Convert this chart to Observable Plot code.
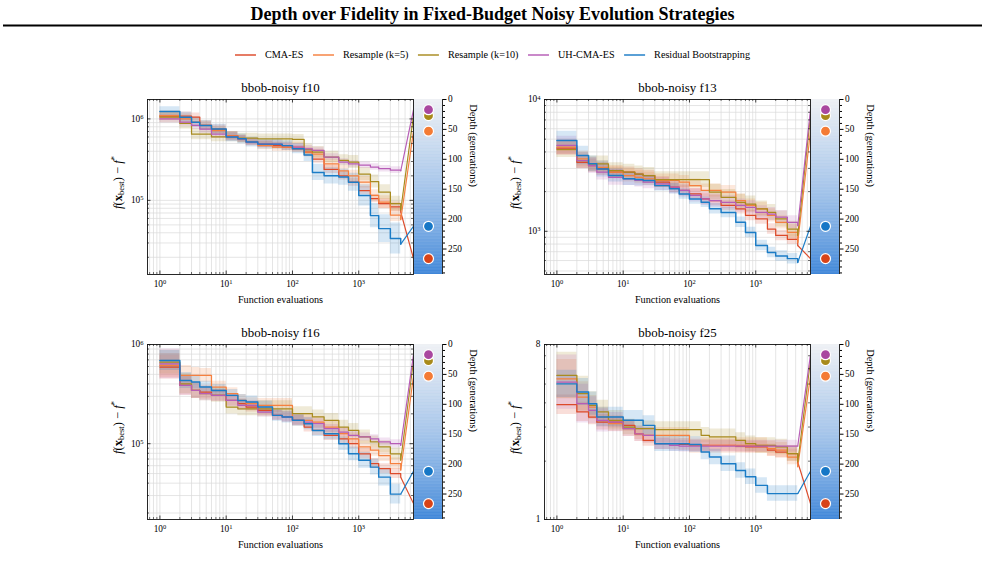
<!DOCTYPE html>
<html>
<head>
<meta charset="utf-8">
<script src="https://cdn.jsdelivr.net/npm/d3@7"></script>
<script src="https://cdn.jsdelivr.net/npm/@observablehq/plot@0.6"></script>
<style>
  html, body { margin: 0; padding: 0; background: #fff; }
  body { width: 985px; height: 563px; position: relative; overflow: hidden;
         font-family: "Liberation Serif", "Times New Roman", Times, serif; }
  .abs { position: absolute; }
</style>
</head>
<body>
<script>
// ---------------- DATA ----------------
const methods = ["CMA-ES", "Resample (k=5)", "Resample (k=10)", "UH-CMA-ES", "Residual Bootstrapping"];
const depthGenerations = [266, 53, 27, 17, 212];
const evaluations = [1, 2, 3, 4, 6, 10, 15, 20, 30, 50, 70, 100, 150, 200, 300, 500, 700, 1000, 1500, 2000, 3000, 4300];
const panelTitles = ["bbob-noisy f10", "bbob-noisy f13", "bbob-noisy f16", "bbob-noisy f25"];
const xTickValues = [1, 10, 100, 1000];
const depthTicks = [0, 50, 100, 150, 200, 250];
const depthMax = 292.6;

// f10
const f10_yDomain = [1.23e4, 1.73e6];
const f10_yTicks = [1e5, 1e6];
const f10_cmaes = [1.08e6, 1.08e6, 1.05e6, 8.3e5, 7.5e5, 6.2e5, 5.7e5, 5.2e5, 4.9e5, 4.7e5, 4.5e5, 4.3e5, 3.9e5, 3.2e5, 2.4e5, 2.0e5, 1.67e5, 1.32e5, 1.05e5, 9.1e4, 8.3e4, 7.2e4];
const f10_rs5 = [1.1e6, 1.0e6, 9.1e5, 8.3e5, 7.2e5, 6.2e5, 5.7e5, 5.2e5, 4.7e5, 4.5e5, 4.5e5, 4.5e5, 3.9e5, 3.7e5, 2.8e5, 2.3e5, 2.0e5, 1.67e5, 1.15e5, 9.5e4, 6.6e4, 5.8e4];
const f10_rs10 = [1.05e6, 8.8e5, 6.5e5, 6.5e5, 6.0e5, 6.0e5, 5.8e5, 5.8e5, 5.7e5, 5.7e5, 5.7e5, 5.6e5, 4.2e5, 3.9e5, 3.4e5, 3.1e5, 2.95e5, 2.1e5, 1.7e5, 1.26e5, 9.1e4, 7.6e4];
const f10_uh = [1.0e6, 9.1e5, 8.3e5, 7.5e5, 6.5e5, 6.0e5, 5.7e5, 5.2e5, 4.9e5, 4.9e5, 4.7e5, 4.5e5, 4.3e5, 4.1e5, 3.4e5, 2.95e5, 2.8e5, 2.7e5, 2.56e5, 2.45e5, 2.35e5, 2.3e5];
const f10_rb = [1.23e6, 1.05e6, 9.1e5, 8.3e5, 7.5e5, 6.0e5, 5.7e5, 5.2e5, 4.9e5, 4.9e5, 4.7e5, 4.3e5, 3.6e5, 2.2e5, 2.0e5, 1.93e5, 1.67e5, 1.15e5, 6.5e4, 4.5e4, 3.4e4, 2.9e4];
// band half-widths (log10 decades)
const f10_cmaes_sd = [.05,.05,.05,.05,.05,.05,.04,.04,.04,.04,.04,.04,.05,.05,.05,.05,.05,.05,.05,.06,.06,.06];
const f10_rs5_sd = [.06,.06,.06,.06,.05,.05,.05,.05,.05,.05,.05,.06,.06,.06,.06,.06,.07,.07,.07,.08,.08,.08];
const f10_rs10_sd = [.07,.07,.07,.07,.06,.06,.06,.06,.06,.06,.06,.06,.07,.07,.07,.07,.08,.08,.08,.09,.09,.09];
const f10_uh_sd = [.05,.05,.05,.05,.05,.05,.04,.04,.04,.04,.04,.04,.04,.04,.04,.04,.04,.04,.04,.04,.04,.04];
const f10_rb_sd = [.06,.06,.06,.06,.06,.06,.06,.06,.06,.06,.06,.06,.08,.10,.10,.10,.11,.13,.15,.17,.19,.20];

// f13
const f13_yDomain = [470, 1e4];
const f13_yTicks = [1e3, 1e4];
const f13_cmaes = [4.27e3, 3.34e3, 3.15e3, 2.97e3, 2.81e3, 2.81e3, 2.72e3, 2.65e3, 2.36e3, 2.16e3, 2.04e3, 1.92e3, 1.76e3, 1.71e3, 1.57e3, 1.48e3, 1.32e3, 1.24e3, 1.04e3, 930, 870, 780];
const f13_rs5 = [4.35e3, 3.54e3, 3.25e3, 3.06e3, 2.81e3, 2.65e3, 2.57e3, 2.5e3, 2.43e3, 2.43e3, 2.36e3, 2.22e3, 2.04e3, 2.04e3, 1.98e3, 1.71e3, 1.57e3, 1.48e3, 1.32e3, 1.17e3, 980, 820];
const f13_rs10 = [4.17e3, 3.44e3, 3.25e3, 3.25e3, 2.89e3, 2.81e3, 2.72e3, 2.65e3, 2.47e3, 2.47e3, 2.47e3, 2.47e3, 2.47e3, 1.98e3, 1.81e3, 1.66e3, 1.61e3, 1.48e3, 1.39e3, 1.24e3, 1.04e3, 930];
const f13_uh = [4.48e3, 3.44e3, 3.15e3, 2.81e3, 2.57e3, 2.5e3, 2.43e3, 2.36e3, 2.29e3, 2.16e3, 2.04e3, 1.87e3, 1.76e3, 1.71e3, 1.66e3, 1.57e3, 1.52e3, 1.39e3, 1.35e3, 1.28e3, 1.17e3, 1.1e3];
const f13_rb = [4.89e3, 3.76e3, 3.25e3, 2.97e3, 2.65e3, 2.5e3, 2.47e3, 2.43e3, 2.22e3, 2.1e3, 1.92e3, 1.76e3, 1.66e3, 1.48e3, 1.39e3, 1.17e3, 980, 780, 690, 650, 620, 580];
const f13_cmaes_sd = [.05,.05,.05,.05,.04,.04,.04,.04,.04,.04,.04,.04,.04,.04,.04,.04,.04,.04,.04,.04,.04,.04];
const f13_rs5_sd = [.06,.06,.05,.05,.05,.05,.05,.05,.05,.05,.05,.05,.05,.05,.05,.05,.05,.05,.05,.05,.06,.06];
const f13_rs10_sd = [.06,.06,.06,.06,.06,.06,.06,.06,.06,.06,.06,.06,.06,.06,.06,.06,.06,.06,.06,.06,.06,.06];
const f13_uh_sd = [.07,.06,.06,.06,.06,.05,.05,.05,.05,.05,.05,.05,.05,.05,.05,.05,.05,.05,.05,.05,.05,.05];
const f13_rb_sd = [.07,.07,.06,.06,.05,.05,.05,.04,.04,.04,.04,.04,.04,.04,.04,.04,.04,.04,.04,.04,.04,.04];

// f16
const f16_yDomain = [1.72e4, 1e6];
const f16_yTicks = [1e5, 1e6];
const f16_cmaes = [5.92e5, 3.87e5, 3.44e5, 3.31e5, 3.07e5, 2.73e5, 2.53e5, 2.34e5, 2.17e5, 1.93e5, 1.86e5, 1.72e5, 1.47e5, 1.36e5, 1.21e5, 1.12e5, 1.0e5, 7.9e4, 6.3e4, 5.6e4, 5.0e4, 4.6e4];
const f16_rs5 = [6.15e5, 4.88e5, 4.88e5, 4.88e5, 3.72e5, 3.19e5, 2.73e5, 2.53e5, 2.43e5, 2.43e5, 2.43e5, 1.72e5, 1.72e5, 1.65e5, 1.47e5, 1.26e5, 1.12e5, 9.3e4, 8.6e4, 7.6e4, 6.3e4, 5.4e4];
const f16_rs10 = [6.64e5, 4.02e5, 3.44e5, 3.19e5, 3.07e5, 2.34e5, 2.25e5, 2.25e5, 2.25e5, 2.25e5, 2.25e5, 2.01e5, 2.01e5, 1.86e5, 1.72e5, 1.47e5, 1.36e5, 1.17e5, 1.04e5, 9.3e4, 7.9e4, 6.8e4];
const f16_uh = [6.38e5, 3.87e5, 3.44e5, 3.19e5, 3.07e5, 2.73e5, 2.43e5, 2.43e5, 2.08e5, 1.93e5, 1.86e5, 1.72e5, 1.65e5, 1.59e5, 1.42e5, 1.31e5, 1.21e5, 1.17e5, 1.12e5, 1.04e5, 1.0e5, 9.6e4];
const f16_rb = [6.9e5, 4.34e5, 4.18e5, 3.72e5, 3.44e5, 3.07e5, 2.73e5, 2.63e5, 2.34e5, 1.93e5, 1.86e5, 1.72e5, 1.59e5, 1.36e5, 1.26e5, 1.0e5, 7.9e4, 6.8e4, 5.8e4, 4.6e4, 3.1e4, 3.1e4];
const f16_cmaes_sd = [.12,.10,.08,.07,.06,.06,.05,.05,.05,.05,.05,.05,.05,.05,.05,.05,.05,.05,.05,.05,.05,.05];
const f16_rs5_sd = [.12,.10,.08,.07,.06,.06,.06,.06,.07,.07,.07,.06,.06,.06,.06,.06,.06,.06,.06,.06,.06,.06];
const f16_rs10_sd = [.12,.10,.08,.07,.07,.07,.07,.07,.08,.08,.08,.07,.07,.07,.07,.07,.07,.07,.06,.06,.06,.06];
const f16_uh_sd = [.15,.10,.08,.07,.06,.06,.05,.05,.05,.05,.05,.05,.05,.05,.04,.04,.04,.04,.04,.04,.04,.04];
const f16_rb_sd = [.10,.08,.07,.06,.06,.06,.06,.06,.06,.06,.06,.06,.06,.06,.06,.07,.07,.08,.08,.09,.10,.10];

// f25
const f25_yDomain = [1, 8];
const f25_yTicks = [1, 8];
const f25_cmaes = [3.91, 3.59, 3.38, 3.18, 3.18, 3.06, 2.77, 2.56, 2.46, 2.46, 2.44, 2.41, 2.41, 2.41, 2.41, 2.39, 2.37, 2.37, 2.28, 2.23, 2.19, 1.98];
const f25_rs5 = [5.32, 4.28, 3.80, 3.38, 3.12, 2.94, 2.77, 2.72, 2.72, 2.72, 2.72, 2.41, 2.41, 2.41, 2.41, 2.41, 2.41, 2.41, 2.32, 2.28, 2.10, 1.87];
const f25_rs10 = [5.54, 4.46, 3.88, 3.59, 3.25, 3.00, 2.94, 2.94, 2.91, 2.91, 2.91, 2.91, 2.72, 2.67, 2.67, 2.56, 2.46, 2.41, 2.41, 2.37, 2.19, 1.98];
const f25_uh = [5.12, 3.96, 3.66, 3.25, 3.18, 2.94, 2.77, 2.72, 2.46, 2.41, 2.39, 2.39, 2.39, 2.39, 2.39, 2.39, 2.39, 2.39, 2.39, 2.39, 2.39, 2.39];
const f25_rb = [5.01, 4.55, 3.96, 3.38, 3.38, 3.25, 3.25, 3.06, 2.46, 2.46, 2.46, 2.44, 2.23, 2.10, 1.94, 1.79, 1.66, 1.50, 1.36, 1.36, 1.36, 1.36];
const f25_cmaes_sd = [.05,.05,.04,.04,.03,.03,.03,.03,.03,.03,.03,.03,.03,.03,.03,.03,.03,.03,.03,.03,.04,.04];
const f25_rs5_sd = [.10,.08,.06,.05,.04,.04,.04,.04,.04,.04,.04,.04,.04,.04,.04,.04,.04,.04,.04,.04,.04,.05];
const f25_rs10_sd = [.12,.09,.07,.06,.05,.04,.04,.04,.04,.04,.04,.04,.04,.04,.04,.04,.04,.04,.04,.04,.04,.04];
const f25_uh_sd = [.14,.10,.07,.06,.05,.04,.04,.04,.03,.03,.03,.03,.03,.03,.03,.03,.03,.03,.03,.03,.03,.03];
const f25_rb_sd = [.07,.07,.06,.05,.05,.05,.05,.05,.04,.04,.04,.04,.04,.04,.04,.04,.04,.04,.04,.04,.04,.04];

// ---------------- STYLE / LAYOUT ----------------
const FONT = '"Liberation Serif","Times New Roman",Times,serif';
const COLORS = ["#dc4a2a", "#f5803f", "#a88b1f", "#b65cb6", "#1b7cc6"];
const DOT_COLORS = ["#d84318", "#f47b35", "#a88a1a", "#a9479f", "#1677c6"];
const GRID = "#dadada";
const X_DOMAIN = [0.65, 6700];
const ML = 47, MR = 1, MT = 28, MB = 36, W = 266, H = 175, CBW = 28, CBMR = 62;

const panels = [
  {title: panelTitles[0], pos: [147, 99], yDomain: f10_yDomain, yTicks: f10_yTicks, yGrid: true, pow: true,
   series: [f10_cmaes, f10_rs5, f10_rs10, f10_uh, f10_rb], spread: [f10_cmaes_sd, f10_rs5_sd, f10_rs10_sd, f10_uh_sd, f10_rb_sd]},
  {title: panelTitles[1], pos: [544, 99], yDomain: f13_yDomain, yTicks: f13_yTicks, yGrid: true, pow: true,
   series: [f13_cmaes, f13_rs5, f13_rs10, f13_uh, f13_rb], spread: [f13_cmaes_sd, f13_rs5_sd, f13_rs10_sd, f13_uh_sd, f13_rb_sd]},
  {title: panelTitles[2], pos: [147, 344], yDomain: f16_yDomain, yTicks: f16_yTicks, yGrid: true, pow: true,
   series: [f16_cmaes, f16_rs5, f16_rs10, f16_uh, f16_rb], spread: [f16_cmaes_sd, f16_rs5_sd, f16_rs10_sd, f16_uh_sd, f16_rb_sd]},
  {title: panelTitles[3], pos: [544, 344], yDomain: f25_yDomain, yTicks: f25_yTicks, yGrid: false, pow: false,
   series: [f25_cmaes, f25_rs5, f25_rs10, f25_uh, f25_rb], spread: [f25_cmaes_sd, f25_rs5_sd, f25_rs10_sd, f25_uh_sd, f25_rb_sd]}
];

function logTicks(lo, hi) {
  const out = [];
  for (let e = Math.floor(Math.log10(lo)); e <= Math.ceil(Math.log10(hi)); e++)
    for (let m = 1; m < 10; m++) {
      const v = m * Math.pow(10, e);
      if (v >= lo * 0.9999 && v <= hi * 1.0001) out.push(v);
    }
  return out;
}
const powFmt = d => "10^" + Math.round(Math.log10(d));

function fixPowers(svg) {
  svg.querySelectorAll("text").forEach(t => {
    const m = /^10\^(-?\d+)$/.exec(t.textContent);
    if (m) {
      t.textContent = "10";
      const ts = document.createElementNS("http://www.w3.org/2000/svg", "tspan");
      ts.setAttribute("dy", "-0.45em");
      ts.setAttribute("font-size", "0.7em");
      ts.textContent = m[1];
      t.appendChild(ts);
    }
  });
}

function place(node, left, top) {
  const div = document.createElement("div");
  div.className = "abs";
  div.style.left = left + "px";
  div.style.top = top + "px";
  div.appendChild(node);
  document.body.appendChild(div);
}

const cbColor = d3.interpolateRgbBasis(["#eef0f4", "#c9daef", "#a6c5ea", "#77a9e2", "#3c84d8"]);

function drawPanel(p) {
  const [fl, ft] = p.pos;
  const [lo, hi] = p.yDomain;
  const llo = Math.log10(lo), lhi = Math.log10(hi);
  const last = evaluations.length - 1;
  const bands = [], lines = [], links = [];
  p.series.forEach((ys, k) => {
    const rows = evaluations.map((x, i) => ({
      x, y: ys[i], lo: ys[i] / Math.pow(10, p.spread[k][i]), hi: ys[i] * Math.pow(10, p.spread[k][i])
    }));
    bands.push(Plot.areaY(rows, {x: "x", y1: "lo", y2: "hi", curve: "step-after", fill: COLORS[k], fillOpacity: 0.18, clip: true}));
    lines.push(Plot.line(rows, {x: "x", y: "y", curve: "step-after", stroke: COLORS[k], strokeWidth: k === 4 ? 1.45 : 1.25, clip: true}));
    const yEdge = Math.pow(10, lhi - depthGenerations[k] / depthMax * (lhi - llo));
    links.push(Plot.link([{x1: evaluations[last], y1: ys[last], x2: X_DOMAIN[1], y2: yEdge}],
      {x1: "x1", y1: "y1", x2: "x2", y2: "y2", stroke: COLORS[k], strokeWidth: 1.15, clip: true}));
  });
  const xAll = logTicks(X_DOMAIN[0], X_DOMAIN[1]);
  const xMinor = xAll.filter(v => !xTickValues.includes(v));
  const yAll = logTicks(lo, hi);
  const yMinor = yAll.filter(v => !p.yTicks.some(t => Math.abs(t - v) < 1e-9 * t));
  const tc = "#111";
  const svg = Plot.plot({
    width: ML + W + MR, height: MT + H + MB,
    marginLeft: ML, marginRight: MR, marginTop: MT, marginBottom: MB,
    x: {type: "log", domain: X_DOMAIN},
    y: {type: "log", domain: p.yDomain},
    style: {fontFamily: FONT, fontSize: "9.3px", color: "#000", background: "none", overflow: "visible"},
    marks: [
      Plot.ruleX(xAll, {stroke: GRID, strokeWidth: 0.7}),
      p.yGrid ? Plot.ruleY(yAll, {stroke: GRID, strokeWidth: 0.7}) : null,
      ...bands, ...lines, ...links,
      Plot.frame({stroke: tc, strokeWidth: 0.9}),
      Plot.ruleX(xTickValues, {insetTop: H - 3.5, stroke: tc, strokeWidth: 0.8}),
      Plot.ruleX(xTickValues, {insetBottom: H - 3.5, stroke: tc, strokeWidth: 0.8}),
      Plot.ruleX(xMinor, {insetTop: H - 2, stroke: tc, strokeWidth: 0.6}),
      Plot.ruleX(xMinor, {insetBottom: H - 2, stroke: tc, strokeWidth: 0.6}),
      Plot.ruleY(p.yTicks, {insetRight: W - 3.5, stroke: tc, strokeWidth: 0.8}),
      Plot.ruleY(p.yTicks, {insetLeft: W - 3.5, stroke: tc, strokeWidth: 0.8}),
      Plot.ruleY(yMinor, {insetRight: W - 2, stroke: tc, strokeWidth: 0.6}),
      Plot.ruleY(yMinor, {insetLeft: W - 2, stroke: tc, strokeWidth: 0.6}),
      Plot.axisX({ticks: xTickValues, tickSize: 0, tickPadding: 6, tickFormat: powFmt, label: null}),
      Plot.axisY({ticks: p.yTicks, tickSize: 0, tickPadding: 4, tickFormat: p.pow ? powFmt : (d => String(d)), label: null}),
      Plot.text([p.title], {text: d => d, frameAnchor: "top", dy: -8, lineAnchor: "bottom", fontSize: 12.9}),
      Plot.text(["Function evaluations"], {text: d => d, frameAnchor: "bottom", dy: 25, lineAnchor: "middle", fontSize: 10.2})
    ]
  });
  fixPowers(svg);
  // rich y-axis label: f(x_best) − f*
  const t = d3.select(svg).append("text")
    .attr("transform", `translate(${ML - 29},${MT + H / 2 - 4}) rotate(-90)`)
    .attr("text-anchor", "middle").attr("dominant-baseline", "central")
    .attr("font-size", 12.5).attr("font-family", FONT).attr("fill", "#000");
  t.append("tspan").attr("font-style", "italic").text("f");
  t.append("tspan").text("(");
  t.append("tspan").attr("font-weight", "bold").text("x");
  t.append("tspan").attr("font-size", 8.5).attr("dy", 3).text("best");
  t.append("tspan").attr("dy", -3).text(") \u2212 ");
  t.append("tspan").attr("font-style", "italic").text("f");
  t.append("tspan").attr("font-size", 8.5).attr("dy", -4.5).text("*");
  place(svg, fl - ML, ft - MT);

  // colorbar
  const cells = d3.range(0, depthMax, 1);
  const minorDepth = d3.range(0, 291, 10).filter(v => v % 50 !== 0);
  const cb = Plot.plot({
    width: CBW + CBMR, height: MT + H + MB,
    marginLeft: 0, marginRight: CBMR, marginTop: MT, marginBottom: MB,
    x: {domain: [0, 1], axis: null},
    y: {domain: [0, depthMax], reverse: true},
    style: {fontFamily: FONT, fontSize: "9.3px", color: "#000", background: "none", overflow: "visible"},
    marks: [
      Plot.rect(cells, {x1: 0, x2: 1, y1: d => d, y2: d => Math.min(d + 1.6, depthMax), fill: d => cbColor((d + 0.5) / depthMax)}),
      Plot.ruleX([1], {stroke: "#111", strokeWidth: 0.9}),
      Plot.axisY({anchor: "right", ticks: depthTicks, tickSize: 3.5, tickPadding: 2, label: null}),
      Plot.axisY({anchor: "right", ticks: minorDepth, tickSize: 2, tickFormat: () => "", label: null}),
      ...methods.map((m, k) => Plot.dot([m], {x: () => 0.5, y: () => depthGenerations[k], r: 5, fill: DOT_COLORS[k], stroke: "white", strokeWidth: 1.2})),
      Plot.text(["Depth (generations)"], {text: d => d, frameAnchor: "right", dx: 31, rotate: 90, fontSize: 10.4})
    ]
  });
  place(cb, fl + W + 1, ft - MT);
}

// ---------------- HEADER ----------------
const head = d3.select("body").append("svg").attr("class", "abs")
  .style("left", "0px").style("top", "0px").attr("width", 985).attr("height", 70);
head.append("text").attr("x", 492.5).attr("y", 20).attr("text-anchor", "middle")
  .attr("font-family", FONT).attr("font-weight", "bold").attr("font-size", 18)
  .text("Depth over Fidelity in Fixed-Budget Noisy Evolution Strategies");
head.append("rect").attr("x", 3).attr("y", 24.5).attr("width", 979).attr("height", 2).attr("fill", "#000");

// legend
const lg = head.append("g");
const items = methods.map((m, k) => {
  const g = lg.append("g");
  g.append("line").attr("x1", 0).attr("x2", 21).attr("y1", 55).attr("y2", 55)
    .attr("stroke", COLORS[k]).attr("stroke-opacity", 0.72).attr("stroke-width", 2);
  const tx = g.append("text").attr("x", 30).attr("y", 55).attr("dy", "0.34em")
    .attr("font-family", FONT).attr("font-size", 10.2).text(m);
  return {g, w: 30 + tx.node().getComputedTextLength()};
});
const gap = 9.5;
const total = d3.sum(items, d => d.w) + gap * (items.length - 1);
let cx = 492.5 - total / 2;
items.forEach(it => { it.g.attr("transform", `translate(${cx},0)`); cx += it.w + gap; });

panels.forEach(drawPanel);
</script>
</body>
</html>
